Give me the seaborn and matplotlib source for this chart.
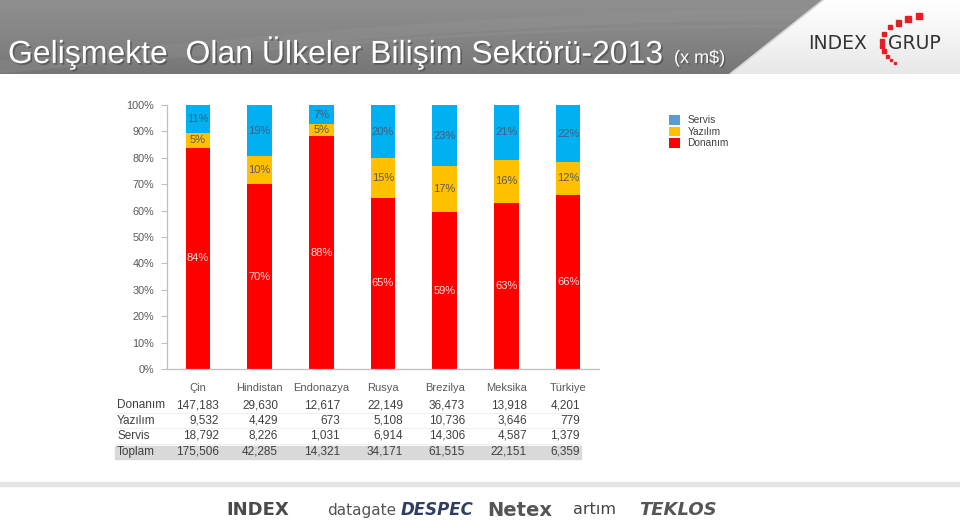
import numpy as np
import pandas as pd
import matplotlib
matplotlib.use("Agg")
import matplotlib.pyplot as plt
import seaborn as sns
from matplotlib.patches import Rectangle, Polygon, Patch
import matplotlib.patheffects as pe

# ---------------- data ----------------
countries = ["Çin", "Hindistan", "Endonazya", "Rusya", "Brezilya", "Meksika", "Türkiye"]
donanim = [147183, 29630, 12617, 22149, 36473, 13918, 4201]
yazilim = [9532, 4429, 673, 5108, 10736, 3646, 779]
servis = [18792, 8226, 1031, 6914, 14306, 4587, 1379]
toplam = [175506, 42285, 14321, 34171, 61515, 22151, 6359]
row_names = ["Donanım", "Yazılım", "Servis", "Toplam"]
legend_names = ["Servis", "Yazılım", "Donanım"]
y_ticks = [0, 10, 20, 30, 40, 50, 60, 70, 80, 90, 100]
title = "Gelişmekte  Olan Ülkeler Bilişim Sektörü-2013"
title_unit = "(x m$)"
footer_logos = ["INDEX", "datagate", "DESPEC", "Netex", "artım", "TEKLOS"]

# ---------------- layout / style ----------------
W, H = 960, 532
C_RED, C_YEL, C_BLU = "#FF0000", "#FFC000", "#00B0F0"
C_LEG_BLU = "#5B9BD5"
TXT = "#595959"
table_rows_px = [405, 420.5, 436, 451.5]
table_col_right_px = [219, 278, 340, 403, 465, 527, 580]

sns.set_theme(style="white")
plt.rcParams["font.family"] = ["Liberation Sans", "DejaVu Sans"]

fig = plt.figure(figsize=(W / 100, H / 100), dpi=100)
fig.patch.set_facecolor("white")

def fx(px):
    return px / W

def fy(py):
    return 1 - py / H

# ---------------- header ----------------
HB = 74
hdr = fig.add_axes([0, fy(HB), 1, HB / H])
hdr.set_xlim(0, W)
hdr.set_ylim(HB, 0)
hdr.axis("off")
grad = np.linspace(0, 1, 75)[:, None] * np.ones((1, 200))
hdr.imshow(grad, cmap=matplotlib.colors.LinearSegmentedColormap.from_list(
    "g", ["#8f8f8f", "#858585", "#767676"]), extent=[0, W, HB, 0], aspect="auto", zorder=0)
# subtle light swoosh
xs = np.linspace(0, 830, 200)
hdr.plot(xs, 66 - 52 * np.sin(np.pi * xs / 1700), color="#a0a0a0", lw=8, alpha=0.18, zorder=1)
hdr.plot(xs, 72 - 46 * np.sin(np.pi * xs / 1600), color="#9a9a9a", lw=2, alpha=0.25, zorder=1)
# white right panel with diagonal
grad2 = np.linspace(0, 1, 75)[:, None] * np.ones((1, 50))
im = hdr.imshow(grad2, cmap=matplotlib.colors.LinearSegmentedColormap.from_list(
    "w", ["#ffffff", "#f4f4f4", "#e8e8e8"]), extent=[720, W, HB, 0], aspect="auto", zorder=2)
clip = Polygon([(823, 0), (W, 0), (W, HB), (730, HB)], closed=True, transform=hdr.transData)
im.set_clip_path(clip)
hdr.plot([823, 730], [0, HB], color="#d5d5d5", lw=1.2, zorder=3)

# title
fig.text(fx(8), fy(63), title, color="white", fontsize=23, ha="left", va="baseline",
         path_effects=[pe.withSimplePatchShadow(offset=(1.2, -1.2), shadow_rgbFace="#444444", alpha=0.6)])
fig.text(fx(674), fy(63), title_unit, color="white", fontsize=13, ha="left", va="baseline",
         path_effects=[pe.withSimplePatchShadow(offset=(1, -1), shadow_rgbFace="#444444", alpha=0.6)])

# INDEX GRUP logo
fig.text(fx(808), fy(44), "INDEX", color="#333333", fontsize=13.5, ha="left", va="center",
         family=["DejaVu Sans"], weight="medium")
fig.text(fx(888), fy(44), "GRUP", color="#333333", fontsize=13.5, ha="left", va="center",
         family=["DejaVu Sans"], weight="medium")
squares = [(919, 16, 6), (908, 19, 5.5), (898, 23, 5), (890, 27, 4.5), (884, 34, 4),
           (882, 41, 3.8), (882, 46, 3.5), (884, 51, 3.2), (887, 56, 3), (891, 60, 2.6), (895, 63, 2.2)]
for (sx, sy, s) in squares:
    fig.patches.append(Rectangle((fx(sx - s / 2), fy(sy + s / 2)), s / W, s / H,
                                 transform=fig.transFigure, color="#E31E24", zorder=5))

# ---------------- main chart ----------------
ax = fig.add_axes([fx(167), fy(369), fx(599) - fx(167), (369 - 105) / H])
df = pd.DataFrame({"country": countries, "don": donanim, "yaz": yazilim, "ser": servis, "top": toplam})
df["p_don"] = df["don"] / df["top"] * 100
df["p_yaz"] = df["yaz"] / df["top"] * 100
df["p_ser"] = df["ser"] / df["top"] * 100
df["c1"] = df["p_don"]
df["c2"] = df["p_don"] + df["p_yaz"]
df["c3"] = df["c2"] + df["p_ser"]

for col, c in [("c3", C_BLU), ("c2", C_YEL), ("c1", C_RED)]:
    sns.barplot(data=df, x="country", y=col, color=c, saturation=1, width=0.4,
                ax=ax, order=countries, linewidth=0)

for i, r in df.iterrows():
    ax.text(i, r["c1"] / 2, f"{r['p_don']:.0f}%", ha="center", va="center", fontsize=8, color="#FFE0E0")
    ax.text(i, (r["c1"] + r["c2"]) / 2, f"{r['p_yaz']:.0f}%", ha="center", va="center", fontsize=8, color="#595959")
    ax.text(i, (r["c2"] + r["c3"]) / 2, f"{r['p_ser']:.0f}%", ha="center", va="center", fontsize=8, color="#3F5F7F")

ax.set_xlim(-0.5, len(countries) - 0.5)
ax.set_ylim(0, 100)
ax.set_yticks(y_ticks)
ax.set_yticklabels([f"{t}%" for t in y_ticks], fontsize=7.8, color=TXT)
ax.tick_params(axis="y", length=4.3, width=0.8, color="#BFBFBF", pad=5, direction="out", left=True)
ax.tick_params(axis="x", length=0, pad=10, labelsize=8, labelcolor=TXT)
ax.set_xlabel("")
ax.set_ylabel("")
for s in ["top", "right"]:
    ax.spines[s].set_visible(False)
for s in ["left", "bottom"]:
    ax.spines[s].set_color("#BFBFBF")
    ax.spines[s].set_linewidth(0.9)
ax.set_facecolor("none")

# legend
handles = [Patch(facecolor=c, edgecolor="none") for c in [C_LEG_BLU, C_YEL, C_RED]]
leg = fig.legend(handles, legend_names, loc="upper left", bbox_to_anchor=(fx(664), fy(110)),
                 frameon=False, fontsize=7.3, handlelength=1.1, handleheight=1.1,
                 handletextpad=0.7, labelspacing=0.12, borderpad=0)
for t in leg.get_texts():
    t.set_color("#404040")

# ---------------- data table ----------------
fig.patches.append(Rectangle((fx(115), fy(458.5)), fx(581) - fx(115), 13 / H,
                             transform=fig.transFigure, color="#D9D9D9", zorder=0))
table_vals = [donanim, yazilim, servis, toplam]
for ry, name, vals in zip(table_rows_px, row_names, table_vals):
    fig.text(fx(117), fy(ry), name, ha="left", va="center", fontsize=8.5, color="#404040")
    for xr, v in zip(table_col_right_px, vals):
        fig.text(fx(xr), fy(ry), f"{v:,}", ha="right", va="center", fontsize=8.5, color="#404040")
for ly in [412.5, 428, 443.5]:
    fig.add_artist(plt.Line2D([fx(115), fx(581)], [fy(ly), fy(ly)], color="#ECECEC", lw=0.6))

# ---------------- footer ----------------
fig.patches.append(Rectangle((0, fy(486)), 1, 4 / H, transform=fig.transFigure, color="#E4E4E4", zorder=0))
foot_specs = [
    (258, dict(fontsize=13, weight="bold", color="#4a4a4a", family=["DejaVu Sans"])),
    (362, dict(fontsize=11, color="#555555", family=["DejaVu Sans"])),
    (437, dict(fontsize=12, weight="bold", style="italic", color="#2f3f5f", family=["DejaVu Sans"])),
    (520, dict(fontsize=14, weight="bold", color="#555555", family=["DejaVu Sans"])),
    (595, dict(fontsize=11.5, color="#444444", family=["DejaVu Sans"])),
    (678, dict(fontsize=13, weight="bold", style="italic", color="#555555", family=["DejaVu Sans"])),
]
for (x, kw), label in zip(foot_specs, footer_logos):
    fig.text(fx(x), fy(510), label, ha="center", va="center", **kw)

fig.savefig("out.png", dpi=100, facecolor="white")
